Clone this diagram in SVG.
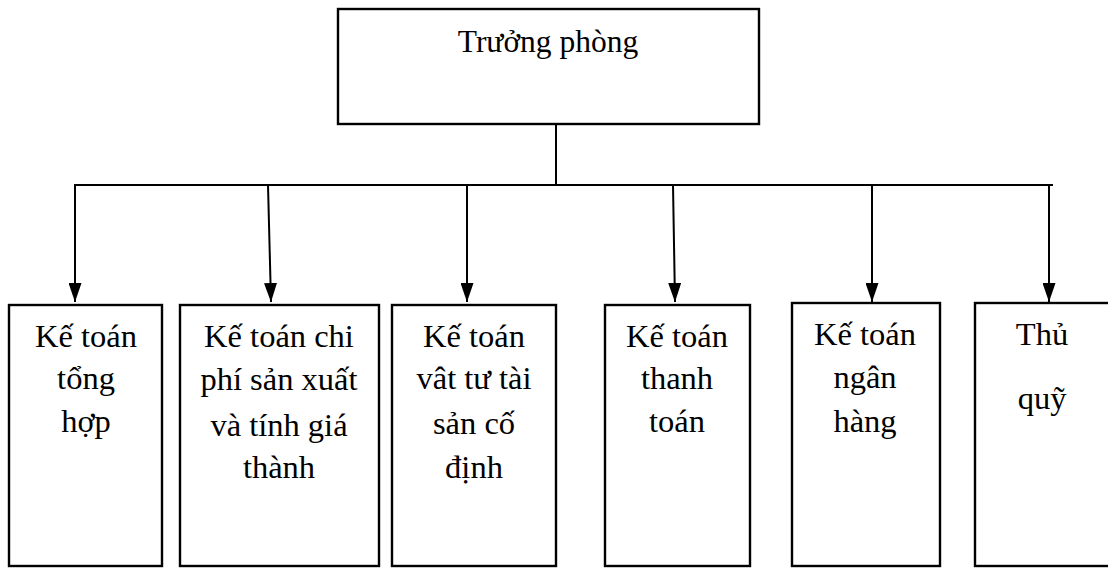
<svg xmlns="http://www.w3.org/2000/svg" width="1108" height="568" viewBox="0 0 1108 568">
  <style>
    .box { fill: #ffffff; stroke: #000000; stroke-width: 2.4; }
    .lbl { font-family: "Liberation Serif", "Times New Roman", serif; font-size: 32.5px; fill: #000000; text-anchor: middle; }
    .head { font-size: 31.5px; }
    .wire { fill: none; stroke: #000000; stroke-width: 2; }
  </style>
  <defs>
    <marker id="arrow" markerUnits="userSpaceOnUse" markerWidth="19" markerHeight="13" refX="19" refY="6.5" orient="auto" viewBox="0 0 19 13">
      <path d="M0,0 L19,6.5 L0,13 Z" fill="#000000"/>
    </marker>
  </defs>

  <rect width="1108" height="568" fill="#ffffff"/>

  <!-- Connectors -->
  <g id="connectors">
    <line class="wire" x1="556" y1="124" x2="556" y2="185"/>
    <line class="wire" x1="74" y1="185" x2="1053" y2="185"/>
    <line class="wire" x1="75" y1="185" x2="75" y2="302" marker-end="url(#arrow)"/>
    <line class="wire" x1="268" y1="185" x2="271" y2="302" marker-end="url(#arrow)"/>
    <line class="wire" x1="467" y1="185" x2="467" y2="302" marker-end="url(#arrow)"/>
    <line class="wire" x1="673" y1="185" x2="675" y2="302" marker-end="url(#arrow)"/>
    <line class="wire" x1="872" y1="185" x2="872" y2="302" marker-end="url(#arrow)"/>
    <line class="wire" x1="1049" y1="185" x2="1049" y2="302" marker-end="url(#arrow)"/>
  </g>

  <!-- Head of department -->
  <g id="truong-phong">
    <rect class="box" x="338" y="9" width="421" height="115"/>
    <text class="lbl head" x="548" y="52">Trưởng phòng</text>
  </g>

  <g id="ke-toan-tong-hop">
    <rect class="box" x="9" y="305" width="153" height="261"/>
    <text class="lbl" x="86" y="347">Kế toán</text>
    <text class="lbl" x="86" y="389">tổng</text>
    <text class="lbl" x="86" y="432">hợp</text>
  </g>

  <g id="ke-toan-chi-phi">
    <rect class="box" x="180" y="305" width="199" height="261"/>
    <text class="lbl" x="279" y="347">Kế toán chi</text>
    <text class="lbl" x="279" y="390">phí sản xuất</text>
    <text class="lbl" x="279" y="436">và tính giá</text>
    <text class="lbl" x="279" y="478">thành</text>
  </g>

  <g id="ke-toan-vat-tu">
    <rect class="box" x="392" y="305" width="164" height="261"/>
    <text class="lbl" x="474" y="347">Kế toán</text>
    <text class="lbl" x="474" y="389">vât tư tài</text>
    <text class="lbl" x="474" y="434">sản cố</text>
    <text class="lbl" x="474" y="478">định</text>
  </g>

  <g id="ke-toan-thanh-toan">
    <rect class="box" x="605" y="305" width="145" height="261"/>
    <text class="lbl" x="677" y="347">Kế toán</text>
    <text class="lbl" x="677" y="389">thanh</text>
    <text class="lbl" x="677" y="432">toán</text>
  </g>

  <g id="ke-toan-ngan-hang">
    <rect class="box" x="792" y="303" width="148" height="263"/>
    <text class="lbl" x="865" y="345">Kế toán</text>
    <text class="lbl" x="865" y="388">ngân</text>
    <text class="lbl" x="865" y="432">hàng</text>
  </g>

  <g id="thu-quy">
    <rect class="box" x="975" y="303" width="150" height="263"/>
    <text class="lbl" x="1042" y="345">Thủ</text>
    <text class="lbl" x="1042" y="409">quỹ</text>
  </g>
</svg>
